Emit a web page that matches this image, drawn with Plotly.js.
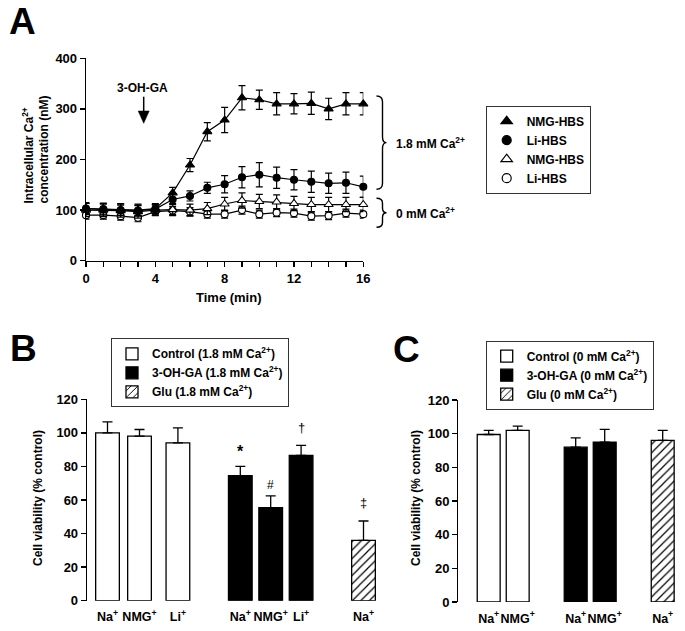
<!DOCTYPE html>
<html><head><meta charset="utf-8">
<script src="https://cdn.plot.ly/plotly-3.0.1.min.js"></script>
<style>html,body{margin:0;padding:0;background:#fff}#chart{width:685px;height:631px}</style>
</head><body><div id="chart"></div>
<script>
// ---------- Panel A data ----------
const timeMin = [0,1,2,3,4,5,6,7,8,9,10,11,12,13,14,15,16];
const nmgCa18 = [103,102,101,100,103,134,189,255,278,322,318,310,310,311,300,310,310];
const nmgCa18Err = [12,12,12,12,10,11,13,18,25,24,19,22,20,22,21,22,22];
const liCa18 = [103,102,100,99,102,121,128,144,151,165,170,164,160,156,153,154,146];
const liCa18Err = [10,10,10,10,9,10,10,11,17,21,24,21,20,21,20,21,21];
const nmgCa0 = [100,100,99,97,100,101,100,103,112,119,117,116,113,111,111,111,111];
const nmgCa0Err = [13,13,13,13,10,12,12,12,13,15,14,14,14,14,14,14,14];
const liCa0 = [90,90,88,85,97,99,97,92,92,100,92,95,94,88,89,94,92];
const liCa0Err = [8,8,8,8,8,8,8,8,8,8,8,8,8,8,8,8,8];
const seriesNamesA = ['NMG-HBS','Li-HBS','NMG-HBS','Li-HBS'];

// ---------- Panel B data (1.8 mM Ca2+) ----------
const catB = ['Na<sup>+</sup>','NMG<sup>+</sup>','Li<sup>+</sup>','Na<sup>+</sup>','NMG<sup>+</sup>','Li<sup>+</sup>','Na<sup>+</sup>'];
const controlB = [100, 98, 94];
const controlBErr = [6.5, 4, 9];
const ohgaB = [74.5, 55.5, 86.5];
const ohgaBErr = [5.5, 7, 6];
const gluB = [36];
const gluBErr = [11.5];
const marksB = ['*','#','†','‡'];

// ---------- Panel C data (0 mM Ca2+) ----------
const catC = ['Na<sup>+</sup>','NMG<sup>+</sup>','Na<sup>+</sup>','NMG<sup>+</sup>','Na<sup>+</sup>'];
const controlC = [99.5, 102];
const controlCErr = [2.5, 2.5];
const ohgaC = [92, 95];
const ohgaCErr = [5.5, 7.5];
const gluC = [96];
const gluCErr = [6];

// ---------- layout helpers (positions only) ----------
const W = 685, H = 631;
const px = v => v / W;
const py = v => 1 - v / H;
const posB = [0, 1, 2.2, 4.15, 5.1, 6.05, 8];
const posC = [0, 1, 3, 4, 6];
const FONT = 'Liberation Sans, Arial, Helvetica, sans-serif';

const errA = (arr) => ({type:'data', array:arr, visible:true, color:'black', thickness:1.2, width:3.5});
const errBar = (arr) => ({type:'data', array:arr, arrayminus:arr.map(()=>0), symmetric:false, visible:true, color:'black', thickness:1.3, width:5});

const lineA = {color:'black', width:1.2};
const traces = [];
// Panel A lines
const specsA = [
  {y:liCa0, e:liCa0Err, sym:'circle', fill:'white'},
  {y:nmgCa0, e:nmgCa0Err, sym:'triangle-up', fill:'white'},
  {y:liCa18, e:liCa18Err, sym:'circle', fill:'black'},
  {y:nmgCa18, e:nmgCa18Err, sym:'triangle-up', fill:'black'}
];
specsA.forEach(s => traces.push({
  type:'scatter', mode:'lines+markers', x:timeMin, y:s.y, xaxis:'x', yaxis:'y',
  line:lineA, marker:{symbol:s.sym, size:s.sym==='circle'?7:8, color:s.fill, line:{color:'black', width:1.1}},
  error_y:errA(s.e), showlegend:false, cliponaxis:false, hoverinfo:'skip'
}));
// Panel A legend entries
const legSpecs = [
  {sym:'triangle-up', fill:'black'}, {sym:'circle', fill:'black'},
  {sym:'triangle-up', fill:'white'}, {sym:'circle', fill:'white'}
];
legSpecs.forEach((s,i) => traces.push({
  type:'scatter', mode:'markers', x:[null], y:[null], xaxis:'x', yaxis:'y',
  name:seriesNamesA[i], legend:'legend',
  marker:{symbol:s.sym, size:s.sym==='circle'?9:10, color:s.fill, line:{color:'black', width:1.2}}
}));

// Panel B bars
const barW_B = 0.74, barW_C = 0.79;
traces.push({type:'bar', x:posB.slice(0,3), y:controlB, width:barW_B, xaxis:'x2', yaxis:'y2',
  name:'Control (1.8 mM Ca<sup>2+</sup>)', legend:'legend2',
  marker:{color:'white', line:{color:'black', width:1.3}}, error_y:errBar(controlBErr), hoverinfo:'skip'});
traces.push({type:'bar', x:posB.slice(3,6), y:ohgaB, width:barW_B, xaxis:'x2', yaxis:'y2',
  name:'3-OH-GA (1.8 mM Ca<sup>2+</sup>)', legend:'legend2',
  marker:{color:'black', line:{color:'black', width:1.3}}, error_y:errBar(ohgaBErr), hoverinfo:'skip'});
traces.push({type:'bar', x:posB.slice(6), y:gluB, width:barW_B, xaxis:'x2', yaxis:'y2',
  name:'Glu (1.8 mM Ca<sup>2+</sup>)', legend:'legend2',
  marker:{color:'white', pattern:{shape:'/', fgcolor:'black', bgcolor:'white', size:6, solidity:0.2}, line:{color:'black', width:1.3}},
  error_y:errBar(gluBErr), hoverinfo:'skip'});

// Panel C bars
traces.push({type:'bar', x:posC.slice(0,2), y:controlC, width:barW_C, xaxis:'x3', yaxis:'y3',
  name:'Control (0 mM Ca<sup>2+</sup>)', legend:'legend3',
  marker:{color:'white', line:{color:'black', width:1.3}}, error_y:errBar(controlCErr), hoverinfo:'skip'});
traces.push({type:'bar', x:posC.slice(2,4), y:ohgaC, width:barW_C, xaxis:'x3', yaxis:'y3',
  name:'3-OH-GA (0 mM Ca<sup>2+</sup>)', legend:'legend3',
  marker:{color:'black', line:{color:'black', width:1.3}}, error_y:errBar(ohgaCErr), hoverinfo:'skip'});
traces.push({type:'bar', x:posC.slice(4), y:gluC, width:barW_C, xaxis:'x3', yaxis:'y3',
  name:'Glu (0 mM Ca<sup>2+</sup>)', legend:'legend3',
  marker:{color:'white', pattern:{shape:'/', fgcolor:'black', bgcolor:'white', size:6, solidity:0.2}, line:{color:'black', width:1.3}},
  error_y:errBar(gluCErr), hoverinfo:'skip'});

// ---------- axes ----------
const axCommon = {showline:true, linecolor:'black', linewidth:1.3, ticks:'outside', ticklen:5, tickwidth:1.3,
  tickcolor:'black', showgrid:false, zeroline:false, tickfont:{size:13}, fixedrange:true};
const catAx = {showline:false, ticks:'', showgrid:false, zeroline:false, tickangle:0, tickfont:{size:12.5}, fixedrange:true, ticklabelstandoff:7};

const layout = {
  width:W, height:H, margin:{l:0,r:0,t:0,b:0}, paper_bgcolor:'white', plot_bgcolor:'rgba(0,0,0,0)',
  font:{family:FONT, size:12, color:'black', weight:'bold'},
  barmode:'overlay', bargap:0,
  xaxis:Object.assign({}, axCommon, {domain:[px(86), px(363.3)], range:[0,16], anchor:'y', tick0:0, dtick:4,
    minor:{dtick:1, ticks:'outside', ticklen:5, tickwidth:1.3, tickcolor:'black', showgrid:false}}),
  yaxis:Object.assign({}, axCommon, {domain:[py(260.7), py(58.3)], range:[0,400], anchor:'x', dtick:100}),
  xaxis2:Object.assign({}, catAx, {domain:[px(87), px(380)], range:[(87-107.5)/32, (380-107.5)/32], anchor:'y2',
    tickvals:posB, ticktext:catB}),
  yaxis2:Object.assign({}, axCommon, {domain:[py(600.7), py(399.3)], range:[0,120], anchor:'x2', dtick:20}),
  xaxis3:Object.assign({}, catAx, {domain:[px(458.3), px(680)], range:[(458.3-488.7)/29, (680-488.7)/29], anchor:'y3',
    tickvals:posC, ticktext:catC}),
  yaxis3:Object.assign({}, axCommon, {domain:[py(602), py(400)], range:[0,120], anchor:'x3', dtick:20}),
  legend:{x:px(485.7), y:py(105.7), xanchor:'left', yanchor:'top', bgcolor:'white', bordercolor:'#333', borderwidth:1,
    font:{size:12}, traceorder:'normal'},
  legend2:{x:px(111), y:py(338.3), xanchor:'left', yanchor:'top', bgcolor:'white', bordercolor:'#333', borderwidth:1,
    font:{size:12}, traceorder:'normal'},
  legend3:{x:px(485.7), y:py(340.7), xanchor:'left', yanchor:'top', bgcolor:'white', bordercolor:'#333', borderwidth:1,
    font:{size:12}, traceorder:'normal'},
  annotations:[], shapes:[]
};

const ann = (x, y, text, opts) => Object.assign({xref:'paper', yref:'paper', x:px(x), y:py(y), text:text,
  showarrow:false, xanchor:'center', yanchor:'middle'}, opts||{});
layout.annotations.push(
  ann(22.5, 21.7, 'A', {font:{size:37}}),
  ann(23, 348, 'B', {font:{size:37}}),
  ann(406, 349, 'C', {font:{size:37}}),
  ann(142.7, 88.3, '3-OH-GA', {font:{size:12}}),
  ann(394, 142.7, '1.8 mM Ca<sup>2+</sup>', {xanchor:'left', font:{size:12}}),
  ann(394, 213.5, '0 mM Ca<sup>2+</sup>', {xanchor:'left', font:{size:12}}),
  ann(35, 149.5, 'Intracellular Ca<sup>2+</sup><br>concentration (nM)', {textangle:-90, align:'left', font:{size:12}}),
  ann(228.8, 297.7, 'Time (min)', {font:{size:13}}),
  ann(38, 498, 'Cell viability (% control)', {textangle:-90, font:{size:12}}),
  ann(416, 498, 'Cell viability (% control)', {textangle:-90, font:{size:12}})
);
// significance marks above bars (data-anchored)
const markTargets = [
  {x:posB[3], y:ohgaB[0]+ohgaBErr[0], shift:4, size:16, w:'bold'},
  {x:posB[4], y:ohgaB[1]+ohgaBErr[1], shift:2, size:12, w:'normal'},
  {x:posB[5], y:ohgaB[2]+ohgaBErr[2], shift:8, size:13, w:'normal'},
  {x:posB[6], y:gluB[0]+gluBErr[0], shift:9, size:13, w:'normal'}
];
markTargets.forEach((m,i) => layout.annotations.push({xref:'x2', yref:'y2', x:m.x, y:m.y, text:marksB[i],
  showarrow:false, xanchor:'center', yanchor:'bottom', yshift:m.shift, font:{size:m.size, weight:m.w}}));

// arrow shapes
const P = (x,y) => px(x).toFixed(5)+','+py(y).toFixed(5);
layout.shapes.push({type:'line', xref:'paper', yref:'paper', x0:px(143.7), x1:px(143.7), y0:py(96.7), y1:py(112),
  line:{color:'black', width:1.5}});
layout.shapes.push({type:'path', xref:'paper', yref:'paper', path:'M'+P(138.2,111)+' L'+P(149.2,111)+' L'+P(143.7,123.3)+' Z',
  fillcolor:'black', line:{color:'black', width:0.5}});
// braces
function brace(y0, y1, xl, xs, xt){
  const ym = (y0+y1)/2, r = Math.min(6, (y1-y0)/6);
  return 'M'+P(xl,y0)+' Q'+P(xs,y0)+' '+P(xs,y0+r)+' L'+P(xs,ym-r)+' Q'+P(xs,ym)+' '+P(xt,ym)+
    ' Q'+P(xs,ym)+' '+P(xs,ym+r)+' L'+P(xs,y1-r)+' Q'+P(xs,y1)+' '+P(xl,y1);
}
layout.shapes.push({type:'path', xref:'paper', yref:'paper', path:brace(96, 189.3, 376.5, 382.5, 386.5), line:{color:'black', width:1.4}});
layout.shapes.push({type:'path', xref:'paper', yref:'paper', path:brace(198.3, 227.3, 376.5, 382.5, 386.5), line:{color:'black', width:1.4}});

Plotly.newPlot('chart', traces, layout, {displayModeBar:false, staticPlot:true});
</script></body></html>
